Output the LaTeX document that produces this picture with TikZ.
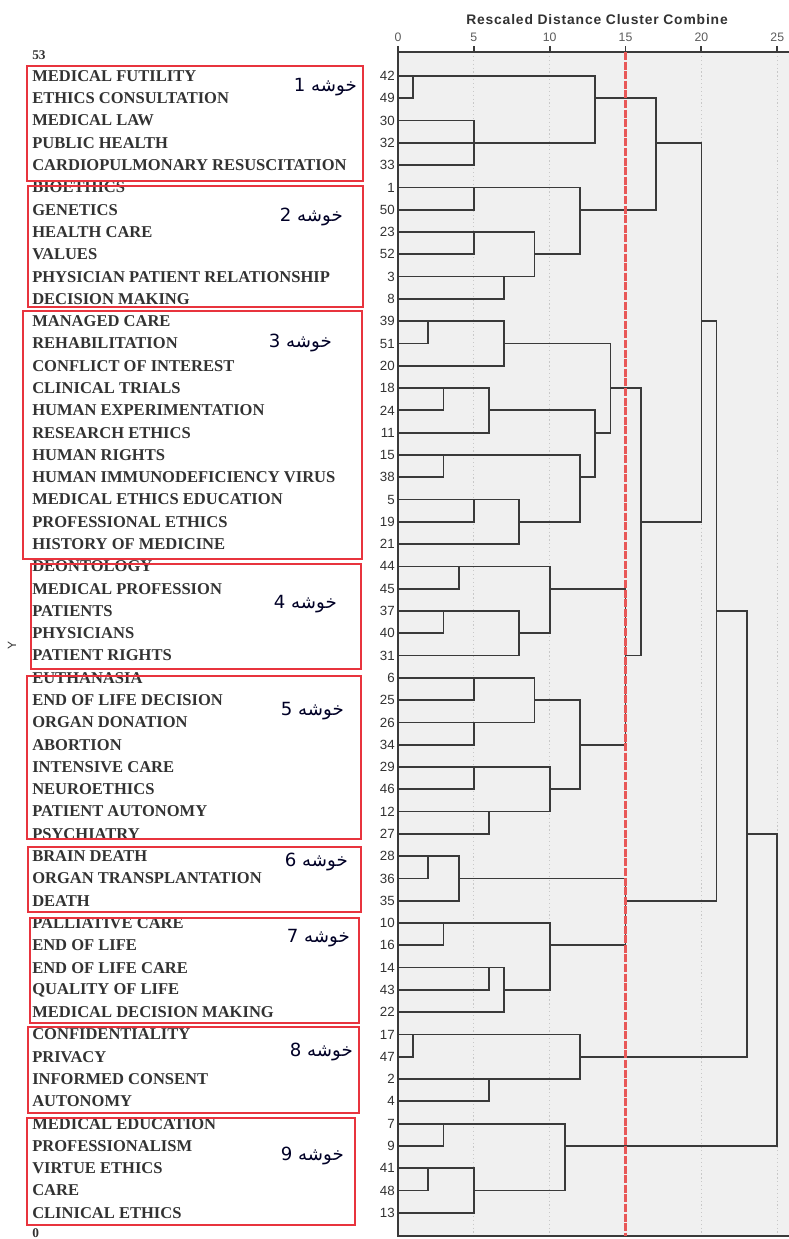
\documentclass[tikz,border=0pt]{standalone}
\usepackage{fontspec}
\setmainfont{Liberation Serif}
\newfontfamily\numfont{Liberation Sans}
\newfontfamily\titlefont{Liberation Sans}[LetterSpace=6]
\newfontfamily\farsifont[Script=Arabic]{DejaVu Sans}
\TeXXeTstate=1

\definecolor{boxred}{RGB}{232,52,62}
\definecolor{cutred}{RGB}{232,88,88}
\definecolor{plotbg}{RGB}{240,240,240}
\definecolor{treeline}{RGB}{58,58,58}
\definecolor{termgray}{RGB}{50,50,50}
\definecolor{gridgray}{RGB}{200,200,200}

\tikzset{
  term/.style={anchor=west, inner sep=0pt, text=termgray,
    font=\fontsize{12.4}{13}\selectfont\bfseries},
  leafno/.style={anchor=east, inner sep=0pt, text=termgray,
    font=\numfont\fontsize{10}{10}\selectfont},
  ticklabel/.style={inner sep=0pt, text=termgray!80,
    font=\numfont\fontsize{9.2}{9}\selectfont},
  clusterbox/.style={draw=boxred, line width=1.1pt},
  clustername/.style={anchor=east, inner sep=0pt, text=black!85!blue,
    font=\farsifont\fontsize{13.6}{14}\selectfont},
  branch/.style={draw=treeline, line width=1.3pt},
  axisline/.style={draw=treeline, line width=1.4pt},
  gridline/.style={draw=gridgray, line width=0.9pt, dotted},
  cutline/.style={draw=cutred, line width=2pt, dash pattern=on 6pt off 1.2pt},
}

\newcommand{\mergebranch}[5]{\draw[branch] (#1,#2) -- (#5,#2) -- (#5,#4) -- (#3,#4);}

\begin{document}
\begin{tikzpicture}[x=0.75pt, y=-0.75pt]
  \useasboundingbox (0,0) rectangle (789,1239);
  \fill[plotbg] (398,52) rectangle (789,1236);

  \node[font=\titlefont\bfseries\fontsize{10.4}{10}\selectfont, text=termgray] (title) at (597,20) {Rescaled Distance Cluster Combine};
  \foreach \d in {5,10,20,25}
    \draw[gridline] (398+15.17*\d,56) -- (398+15.17*\d,1236);
  \foreach \d in {0,5,...,25} {
    \draw[axisline] (398+15.17*\d,46) -- (398+15.17*\d,52);
    \node[ticklabel] (tick\d) at (398+15.17*\d,37) {\d};
  }
  \draw[axisline] (789,52) -- (398,52) -- (398,1236) -- (789,1236);

  \begin{scope}[shift={(398,76)}, xscale=15.17, yscale=22.29]
    % cluster 1
    \mergebranch{0}{0}{0}{1}{1}
    \mergebranch{0}{2}{0}{4}{5}
    \mergebranch{1}{0}{0}{3}{13}
    % cluster 2
    \mergebranch{0}{5}{0}{6}{5}
    \mergebranch{0}{7}{0}{8}{5}
    \mergebranch{0}{9}{0}{10}{7}
    \mergebranch{5}{7}{7}{9}{9}
    \mergebranch{5}{5}{9}{8}{12}
    \mergebranch{13}{1}{12}{6}{17}
    % cluster 3
    \mergebranch{0}{11}{0}{12}{2}
    \mergebranch{2}{11}{0}{13}{7}
    \mergebranch{0}{14}{0}{15}{3}
    \mergebranch{3}{14}{0}{16}{6}
    \mergebranch{0}{17}{0}{18}{3}
    \mergebranch{0}{19}{0}{20}{5}
    \mergebranch{5}{19}{0}{21}{8}
    \mergebranch{3}{17}{8}{20}{12}
    \mergebranch{6}{15}{12}{18}{13}
    \mergebranch{7}{12}{13}{16}{14}
    % cluster 4
    \mergebranch{0}{22}{0}{23}{4}
    \mergebranch{0}{24}{0}{25}{3}
    \mergebranch{3}{24}{0}{26}{8}
    \mergebranch{4}{22}{8}{25}{10}
    % cluster 5
    \mergebranch{0}{27}{0}{28}{5}
    \mergebranch{0}{29}{0}{30}{5}
    \mergebranch{5}{27}{5}{29}{9}
    \mergebranch{0}{31}{0}{32}{5}
    \mergebranch{0}{33}{0}{34}{6}
    \mergebranch{5}{31}{6}{33}{10}
    \mergebranch{9}{28}{10}{32}{12}
    % cluster 6
    \mergebranch{0}{35}{0}{36}{2}
    \mergebranch{2}{35}{0}{37}{4}
    % cluster 7
    \mergebranch{0}{38}{0}{39}{3}
    \mergebranch{0}{40}{0}{41}{6}
    \mergebranch{6}{40}{0}{42}{7}
    \mergebranch{3}{38}{7}{41}{10}
    % cluster 8
    \mergebranch{0}{43}{0}{44}{1}
    \mergebranch{0}{45}{0}{46}{6}
    \mergebranch{1}{43}{6}{45}{12}
    % cluster 9
    \mergebranch{0}{47}{0}{48}{3}
    \mergebranch{0}{49}{0}{50}{2}
    \mergebranch{2}{49}{0}{51}{5}
    \mergebranch{3}{47}{5}{50}{11}
    % upper joins
    \mergebranch{10}{23}{12}{30}{15}
    \mergebranch{4}{36}{10}{39}{15}
    \mergebranch{14}{14}{15}{26}{16}
    \mergebranch{17}{3}{16}{20}{20}
    \mergebranch{20}{11}{15}{37}{21}
    \mergebranch{21}{24}{12}{44}{23}
    \mergebranch{23}{34}{11}{48}{25}
    \draw[cutline] (15,-1.08) -- (15,52.04);
  \end{scope}

  \node[term, font=\fontsize{10}{10}\selectfont\bfseries] (top) at (32,55) {53};
  \node[term, font=\fontsize{10}{10}\selectfont\bfseries] (bottom) at (32,1233) {0};
  \node[rotate=90, inner sep=0pt, text=termgray, font=\numfont\fontsize{9}{9}\selectfont] (yaxis) at (12,645) {Y};

  \foreach \no/\term [count=\i from 0] in {
      42/MEDICAL FUTILITY, 49/ETHICS CONSULTATION, 30/MEDICAL LAW,
      32/PUBLIC HEALTH, 33/CARDIOPULMONARY RESUSCITATION,
      1/BIOETHICS, 50/GENETICS, 23/HEALTH CARE, 52/VALUES,
      3/PHYSICIAN PATIENT RELATIONSHIP, 8/DECISION MAKING,
      39/MANAGED CARE, 51/REHABILITATION, 20/CONFLICT OF INTEREST,
      18/CLINICAL TRIALS, 24/HUMAN EXPERIMENTATION, 11/RESEARCH ETHICS,
      15/HUMAN RIGHTS, 38/HUMAN IMMUNODEFICIENCY VIRUS,
      5/MEDICAL ETHICS EDUCATION, 19/PROFESSIONAL ETHICS,
      21/HISTORY OF MEDICINE,
      44/DEONTOLOGY, 45/MEDICAL PROFESSION, 37/PATIENTS, 40/PHYSICIANS,
      31/PATIENT RIGHTS,
      6/EUTHANASIA, 25/END OF LIFE DECISION, 26/ORGAN DONATION,
      34/ABORTION, 29/INTENSIVE CARE, 46/NEUROETHICS,
      12/PATIENT AUTONOMY, 27/PSYCHIATRY,
      28/BRAIN DEATH, 36/ORGAN TRANSPLANTATION, 35/DEATH,
      10/PALLIATIVE CARE, 16/END OF LIFE, 14/END OF LIFE CARE,
      43/QUALITY OF LIFE, 22/MEDICAL DECISION MAKING,
      17/CONFIDENTIALITY, 47/PRIVACY, 2/INFORMED CONSENT, 4/AUTONOMY,
      7/MEDICAL EDUCATION, 9/PROFESSIONALISM, 41/VIRTUE ETHICS,
      48/CARE, 13/CLINICAL ETHICS} {
    \node[leafno] (n\no) at (395,76+22.29*\i) {\no};
    \node[term] (t\no) at (32,76+22.29*\i) {\term};
  }

  \draw[clusterbox] (27,66) rectangle (363,181);
  \draw[clusterbox] (28,186) rectangle (363,307);
  \draw[clusterbox] (23,311) rectangle (362,559);
  \draw[clusterbox] (31,564) rectangle (361,669);
  \draw[clusterbox] (27,676) rectangle (361,839);
  \draw[clusterbox] (28,847) rectangle (361,912);
  \draw[clusterbox] (30,918) rectangle (359,1023);
  \draw[clusterbox] (28,1027) rectangle (359,1113);
  \draw[clusterbox] (27,1118) rectangle (355,1225);

  \node[clustername] (c1) at (357,87) {\beginR خوشه 1\endR};
  \node[clustername] (c2) at (343,217) {\beginR خوشه 2\endR};
  \node[clustername] (c3) at (332,343) {\beginR خوشه 3\endR};
  \node[clustername] (c4) at (337,604) {\beginR خوشه 4\endR};
  \node[clustername] (c5) at (344,711) {\beginR خوشه 5\endR};
  \node[clustername] (c6) at (348,862) {\beginR خوشه 6\endR};
  \node[clustername] (c7) at (350,938) {\beginR خوشه 7\endR};
  \node[clustername] (c8) at (353,1052) {\beginR خوشه 8\endR};
  \node[clustername] (c9) at (344,1156) {\beginR خوشه 9\endR};
\end{tikzpicture}
\end{document}
